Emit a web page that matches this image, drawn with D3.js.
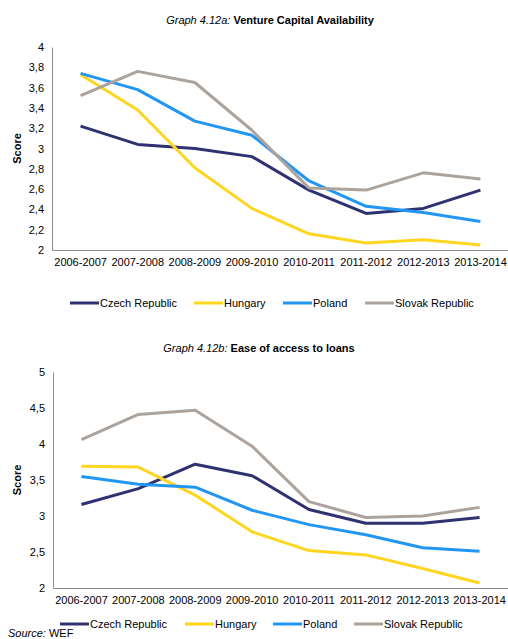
<!DOCTYPE html>
<html><head><meta charset="utf-8">
<script src="https://cdn.jsdelivr.net/npm/d3@7"></script>
<style>body{margin:0;background:#fff}svg{display:block;font-family:"Liberation Sans",Arial,sans-serif}</style>
</head><body>
<script>
const categories = ["2006-2007","2007-2008","2008-2009","2009-2010","2010-2011","2011-2012","2012-2013","2013-2014"];
const seriesNames = ["Czech Republic","Hungary","Poland","Slovak Republic"];
const seriesColors = ["#2E3270","#FFD61F","#2196F3","#ADA39D"];
// Graph 4.12a: Venture Capital Availability
const vcCzech  = [3.22,3.04,3.00,2.92,2.59,2.36,2.41,2.59];
const vcHungary= [3.73,3.38,2.81,2.41,2.16,2.07,2.10,2.05];
const vcPoland = [3.74,3.58,3.27,3.13,2.68,2.43,2.37,2.28];
const vcSlovak = [3.52,3.76,3.65,3.18,2.61,2.59,2.76,2.70];
const vcTicks = [2,2.2,2.4,2.6,2.8,3,3.2,3.4,3.6,3.8,4];
// Graph 4.12b: Ease of access to loans
const lnCzech  = [3.16,3.38,3.72,3.56,3.09,2.90,2.90,2.98];
const lnHungary= [3.69,3.68,3.29,2.78,2.52,2.46,2.27,2.07];
const lnPoland = [3.55,3.44,3.40,3.08,2.88,2.74,2.56,2.51];
const lnSlovak = [4.06,4.41,4.47,3.97,3.20,2.98,3.00,3.12];
const lnTicks = [2,2.5,3,3.5,4,4.5,5];

const W=508,H=639;
const svg=d3.select("body").append("svg").attr("width",W).attr("height",H);
const fmt=d=>String(d).replace(".",",");

function chart(cfg){
  const g=svg.append("g");
  const x=d3.scaleBand().domain(categories).range([cfg.x0,cfg.x1]);
  const y=d3.scaleLinear().domain(cfg.domain).range([cfg.yb,cfg.yt]);
  const t=g.append("text").attr("x",cfg.tx).attr("y",cfg.ty).attr("text-anchor","middle").attr("font-size",11).attr("fill","#000");
  t.append("tspan").attr("font-style","italic").text(cfg.titleA);
  t.append("tspan").attr("font-weight","bold").text(cfg.titleB);
  const ya=g.append("g").attr("transform",`translate(${cfg.x0},0)`).call(d3.axisLeft(y).tickValues(cfg.ticks).tickFormat(fmt).tickSize(0).tickPadding(8));
  ya.select(".domain").attr("stroke","#8c8c8c");
  ya.selectAll("text").attr("font-size",11).attr("fill","#000").attr("font-family","Liberation Sans, Arial, sans-serif");
  const xa=g.append("g").attr("transform",`translate(0,${cfg.yb})`).call(d3.axisBottom(x).tickSize(0).tickPadding(8));
  xa.select(".domain").attr("stroke","#8c8c8c");
  xa.selectAll("text").attr("font-size",11).attr("fill","#000").attr("font-family","Liberation Sans, Arial, sans-serif");
  g.append("text").attr("transform",`translate(${cfg.lx},${(cfg.yt+cfg.yb)/2}) rotate(-90)`).attr("text-anchor","middle").attr("font-size",11).attr("font-weight","bold").text("Score");
  const line=d3.line().x((d,i)=>x(categories[i])+x.bandwidth()/2).y(d=>y(d));
  cfg.series.forEach((s,i)=>{
    g.append("path").datum(s).attr("d",line).attr("fill","none").attr("stroke",seriesColors[i]).attr("stroke-width",3).attr("stroke-linejoin","round");
  });
  cfg.legX.forEach((lx,i)=>{
    g.append("line").attr("x1",lx).attr("x2",lx+29).attr("y1",cfg.legY).attr("y2",cfg.legY).attr("stroke",seriesColors[i]).attr("stroke-width",3);
    g.append("text").attr("x",lx+30).attr("y",cfg.legY+4).attr("font-size",11).attr("fill","#000").text(seriesNames[i]);
  });
}

chart({x0:52,x1:509,yt:47,yb:250,domain:[2,4],ticks:vcTicks,tx:270,ty:24,
  titleA:"Graph 4.12a: ",titleB:"Venture Capital Availability",lx:21,
  series:[vcCzech,vcHungary,vcPoland,vcSlovak],legX:[70,194,283,365],legY:303});
chart({x0:53,x1:508,yt:372,yb:588,domain:[2,5],ticks:lnTicks,tx:259,ty:352,
  titleA:"Graph 4.12b: ",titleB:"Ease of access to loans",lx:21,
  series:[lnCzech,lnHungary,lnPoland,lnSlovak],legX:[60,185,273,354],legY:624});

const src=svg.append("text").attr("x",8).attr("y",637).attr("font-size",11);
src.append("tspan").attr("font-style","italic").text("Source:");
src.append("tspan").text(" WEF");
</script>
</body></html>
